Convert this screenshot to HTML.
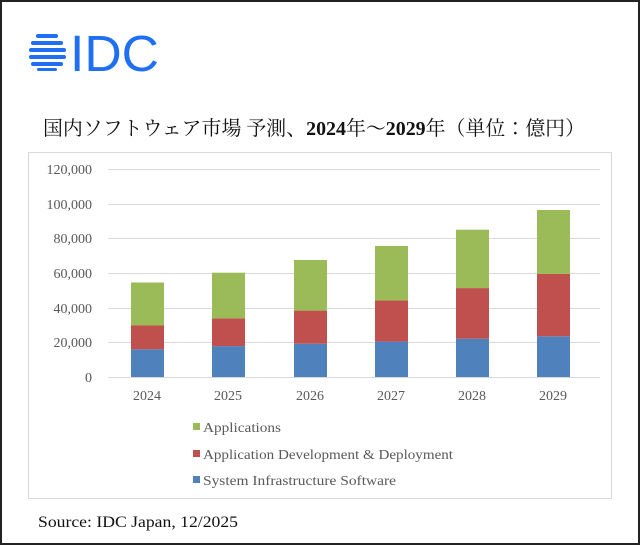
<!DOCTYPE html>
<html><head><meta charset="utf-8"><style>
html,body{margin:0;padding:0;background:#fff}
svg{display:block}
</style></head><body>
<svg width="640" height="545" viewBox="0 0 640 545" xmlns="http://www.w3.org/2000/svg">
<rect x="1" y="1" width="638" height="543" fill="#fff" stroke="#222" stroke-width="2"/>
<g fill="#1f6ff2">
<rect x="36" y="34" width="22" height="4" rx="2"/>
<rect x="31" y="41" width="32" height="4" rx="2"/>
<rect x="29" y="48" width="37" height="4" rx="2"/>
<rect x="29" y="55" width="37" height="4" rx="2"/>
<rect x="31" y="62" width="32" height="4" rx="2"/>
<rect x="37" y="68" width="20" height="3" rx="1.5"/>
</g>
<text x="70" y="71" font-family="Liberation Sans, sans-serif" font-size="51" fill="#1f6ff2" textLength="89" lengthAdjust="spacingAndGlyphs">IDC</text>
<text x="43" y="135" font-family="'Liberation Serif','Noto Serif CJK JP',serif" font-size="20" fill="#111" textLength="542" lengthAdjust="spacingAndGlyphs">国内ソフトウェア市場 予測、<tspan font-weight="bold">2024</tspan>年～<tspan font-weight="bold">2029</tspan>年（単位：億円）</text>
<rect x="28.5" y="152.5" width="583" height="346" fill="#fff" stroke="#d9d9d9"/>
<g stroke="#d9d9d9" stroke-width="1">
<line x1="108" x2="600" y1="169.5" y2="169.5"/>
<line x1="108" x2="600" y1="204.5" y2="204.5"/>
<line x1="108" x2="600" y1="238.5" y2="238.5"/>
<line x1="108" x2="600" y1="273.5" y2="273.5"/>
<line x1="108" x2="600" y1="308.5" y2="308.5"/>
<line x1="108" x2="600" y1="342.5" y2="342.5"/>
<line x1="108" x2="600" y1="377.5" y2="377.5"/>
</g>
<g font-family="'Liberation Serif',serif" font-size="14" fill="#595959" text-anchor="end">
<text x="92" y="174">120,000</text>
<text x="92" y="209">100,000</text>
<text x="92" y="243">80,000</text>
<text x="92" y="278">60,000</text>
<text x="92" y="313">40,000</text>
<text x="92" y="347">20,000</text>
<text x="92" y="382">0</text>
</g>
<g font-family="'Liberation Serif',serif" font-size="14" fill="#595959" text-anchor="middle">
<text x="147" y="400">2024</text>
<text x="228" y="400">2025</text>
<text x="310" y="400">2026</text>
<text x="391" y="400">2027</text>
<text x="472" y="400">2028</text>
<text x="553" y="400">2029</text>
</g>
<g>
<rect x="131" y="349.3" width="33" height="27.7" fill="#4f81bd"/>
<rect x="131" y="325.5" width="33" height="23.8" fill="#c0504d"/>
<rect x="131" y="282.5" width="33" height="43" fill="#9bbb59"/>
<rect x="212" y="346.1" width="33" height="30.9" fill="#4f81bd"/>
<rect x="212" y="318.4" width="33" height="27.7" fill="#c0504d"/>
<rect x="212" y="272.7" width="33" height="45.7" fill="#9bbb59"/>
<rect x="294" y="343.7" width="33" height="33.3" fill="#4f81bd"/>
<rect x="294" y="310.6" width="33" height="33.1" fill="#c0504d"/>
<rect x="294" y="260" width="33" height="50.6" fill="#9bbb59"/>
<rect x="375" y="341.6" width="33" height="35.4" fill="#4f81bd"/>
<rect x="375" y="300.4" width="33" height="41.2" fill="#c0504d"/>
<rect x="375" y="246" width="33" height="54.4" fill="#9bbb59"/>
<rect x="456" y="338.7" width="33" height="38.3" fill="#4f81bd"/>
<rect x="456" y="288.1" width="33" height="50.6" fill="#c0504d"/>
<rect x="456" y="229.7" width="33" height="58.4" fill="#9bbb59"/>
<rect x="537" y="336.3" width="33" height="40.7" fill="#4f81bd"/>
<rect x="537" y="273.9" width="33" height="62.4" fill="#c0504d"/>
<rect x="537" y="210" width="33" height="63.9" fill="#9bbb59"/>
</g>
<g font-family="'Liberation Serif',serif" font-size="14" fill="#595959">
<rect x="193" y="423" width="7" height="7" fill="#9bbb59"/>
<text x="203" y="432" textLength="78" lengthAdjust="spacingAndGlyphs">Applications</text>
<rect x="193" y="450" width="7" height="7" fill="#c0504d"/>
<text x="203" y="459" textLength="250" lengthAdjust="spacingAndGlyphs">Application Development &amp; Deployment</text>
<rect x="193" y="476" width="7" height="7" fill="#4f81bd"/>
<text x="203" y="485" textLength="193" lengthAdjust="spacingAndGlyphs">System Infrastructure Software</text>
</g>
<text x="38" y="527" font-family="'Liberation Serif',serif" font-size="16" fill="#111" textLength="200" lengthAdjust="spacingAndGlyphs">Source: IDC Japan, 12/2025</text>
</svg>
</body></html>
